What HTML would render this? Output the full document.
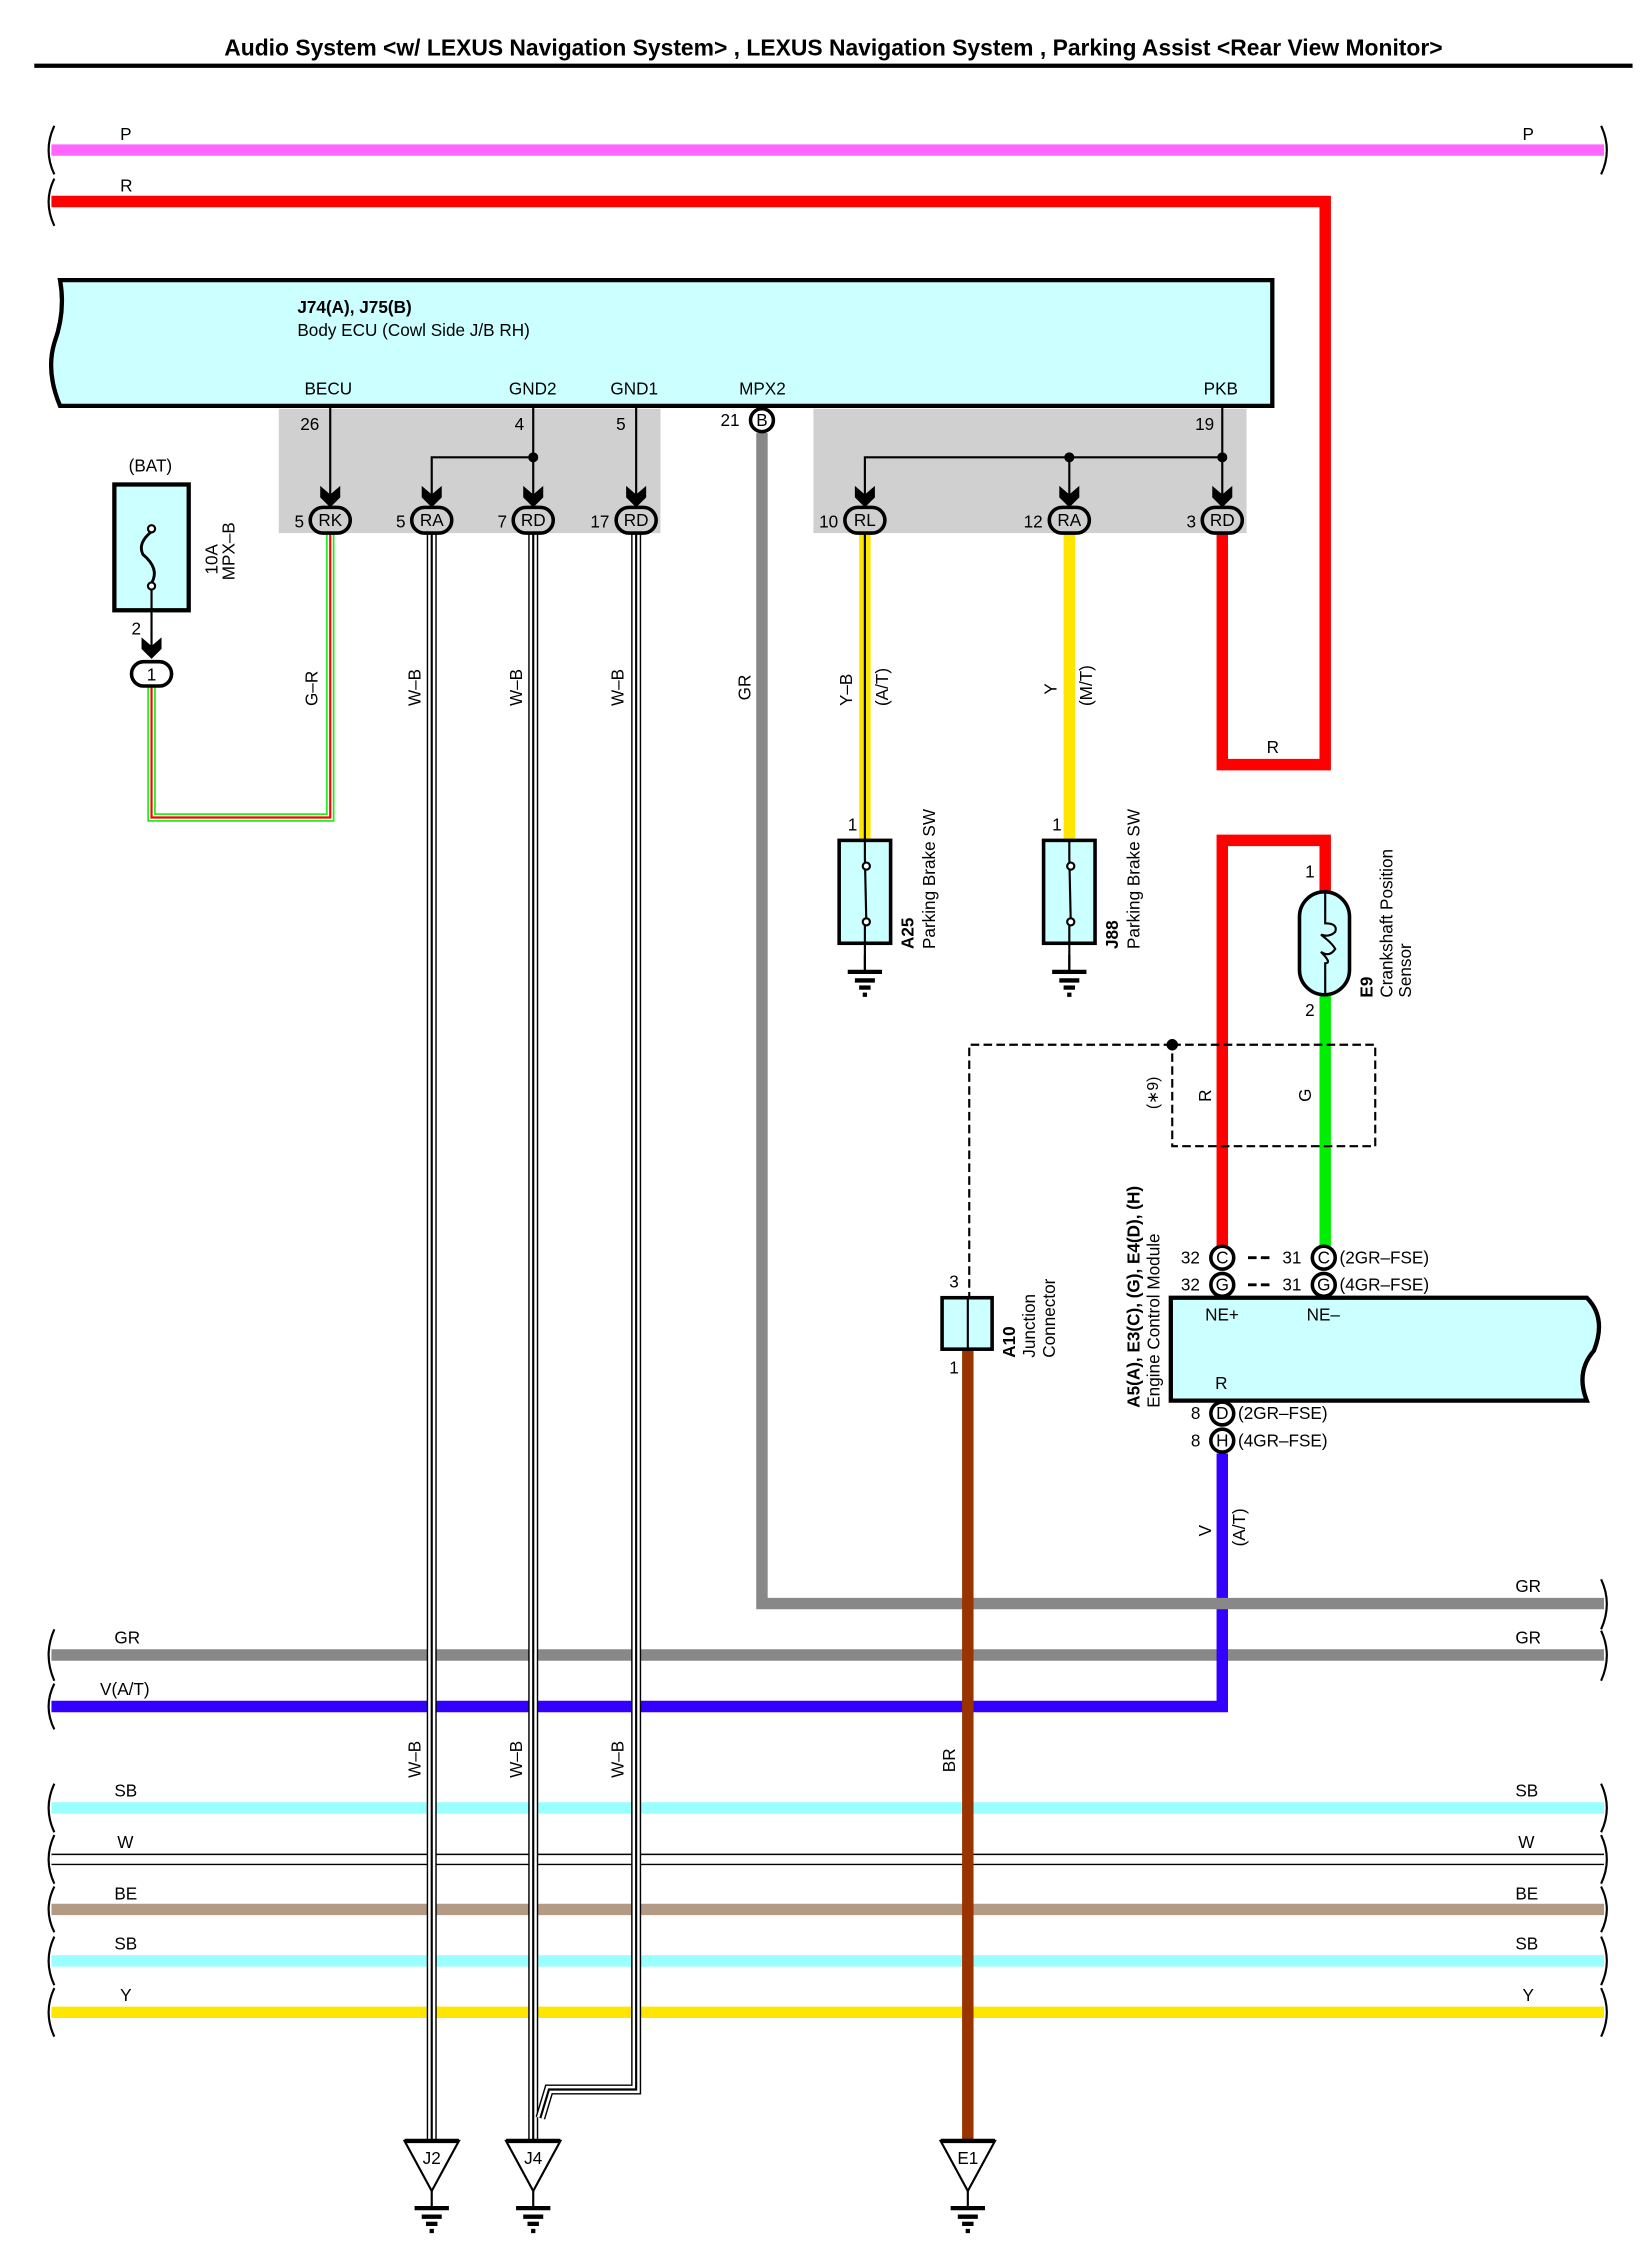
<!DOCTYPE html>
<html><head><meta charset="utf-8"><style>
html,body{margin:0;padding:0;background:#fff}
svg{display:block}
text{font-family:"Liberation Sans",sans-serif;font-size:12px;fill:#000}
.b{font-weight:bold}
</style></head><body>
<svg width="1644" height="2241" viewBox="0 0 1150 1568" preserveAspectRatio="none" xmlns="http://www.w3.org/2000/svg">
<defs>
<g id="arr"><path d="M-7,-12 L0,-6 L7,-12 L7,-4 L0,3 L-7,-4Z" fill="#000"/></g>
<g id="gnd"><line x1="0" y1="0" x2="0" y2="12" stroke="#000" stroke-width="1.5"/><line x1="-12" y1="12" x2="12" y2="12" stroke="#000" stroke-width="3"/><line x1="-7" y1="18" x2="7" y2="18" stroke="#000" stroke-width="3"/><line x1="-4" y1="23" x2="4" y2="23" stroke="#000" stroke-width="3"/><line x1="-1.5" y1="28" x2="1.5" y2="28" stroke="#000" stroke-width="3"/></g>
</defs>
<text x="583" y="39" text-anchor="middle" class="b" style="font-size:16px">Audio System &lt;w/ LEXUS Navigation System&gt; , LEXUS Navigation System , Parking Assist &lt;Rear View Monitor&gt;</text>
<line x1="24" y1="46" x2="1142" y2="46" stroke="#000" stroke-width="3"/>

<line x1="36" y1="105" x2="1122" y2="105" stroke="#ff66ff" stroke-width="8"/>
<text x="84" y="98">P</text><text x="1065" y="98">P</text>
<polyline points="36,141 927,141 927,535 855,535 855,372" fill="none" stroke="#ff0000" stroke-width="8"/>
<text x="84" y="134">R</text><text x="886" y="527">R</text>

<g fill="none" stroke="#000" stroke-width="1.5">
<path d="M38,88 Q30,105 38,122"/><path d="M38,125 Q30,141 38,158"/>
<path d="M1120,88 Q1128,105 1120,122"/>
</g>

<path d="M42,196 L890,196 L890,284 L42,284 Q32,260 38,240 Q46,218 42,196Z" fill="#ccffff" stroke="#000" stroke-width="3"/>
<text x="208" y="219" class="b">J74(A), J75(B)</text>
<text x="208" y="235">Body ECU (Cowl Side J/B RH)</text>
<text x="213" y="276">BECU</text><text x="356" y="276">GND2</text><text x="427" y="276">GND1</text><text x="517" y="276">MPX2</text><text x="842" y="276">PKB</text>
<rect x="195" y="286" width="267" height="87" fill="#d0d0d0"/>
<rect x="569" y="286" width="303" height="87" fill="#d0d0d0"/>

<line x1="36" y1="1158" x2="1122" y2="1158" stroke="#888" stroke-width="8"/>
<text x="80" y="1150">GR</text><text x="1060" y="1150">GR</text>
<polyline points="36,1194 855,1194 855,1017" fill="none" stroke="#3300ff" stroke-width="8"/>
<text x="70" y="1186">V(A/T)</text>
<line x1="36" y1="1265" x2="1122" y2="1265" stroke="#99ffff" stroke-width="8"/>
<text x="80" y="1257">SB</text><text x="1060" y="1257">SB</text>
<line x1="36" y1="1301" x2="1122" y2="1301" stroke="#000" stroke-width="8"/>
<line x1="36" y1="1301" x2="1122" y2="1301" stroke="#fff" stroke-width="6"/>
<text x="82" y="1293">W</text><text x="1062" y="1293">W</text>
<line x1="36" y1="1336" x2="1122" y2="1336" stroke="#b39a85" stroke-width="8"/>
<text x="80" y="1329">BE</text><text x="1060" y="1329">BE</text>
<line x1="36" y1="1372" x2="1122" y2="1372" stroke="#99ffff" stroke-width="8"/>
<text x="80" y="1364">SB</text><text x="1060" y="1364">SB</text>
<line x1="36" y1="1408" x2="1122" y2="1408" stroke="#ffe600" stroke-width="8"/>
<text x="84" y="1400">Y</text><text x="1065" y="1400">Y</text>
<g fill="none" stroke="#000" stroke-width="1.5">
<path d="M38,1140 Q30,1158 38,1176"/><path d="M38,1178 Q30,1194 38,1210"/>
<path d="M38,1248 Q30,1265 38,1282"/><path d="M38,1284 Q30,1301 38,1318"/><path d="M38,1320 Q30,1336 38,1352"/><path d="M38,1355 Q30,1372 38,1389"/><path d="M38,1391 Q30,1408 38,1425"/>
<path d="M1120,1105 Q1128,1122 1120,1140"/><path d="M1120,1141 Q1128,1158 1120,1176"/>
<path d="M1120,1248 Q1128,1265 1120,1282"/><path d="M1120,1284 Q1128,1301 1120,1318"/><path d="M1120,1320 Q1128,1336 1120,1352"/><path d="M1120,1355 Q1128,1372 1120,1389"/><path d="M1120,1391 Q1128,1408 1120,1425"/>
</g>

<polyline points="533,303 533,1122 1122,1122" fill="none" stroke="#888" stroke-width="8"/>
<text x="1060" y="1114">GR</text>
<text transform="translate(525,490) rotate(-90)">GR</text>

<g stroke="#000" stroke-width="1.5" fill="none">
<line x1="231" y1="284" x2="231" y2="352"/>
<line x1="373" y1="284" x2="373" y2="352"/>
<polyline points="302,352 302,320 373,320"/>
<line x1="445" y1="284" x2="445" y2="352"/>
<line x1="855" y1="284" x2="855" y2="352"/>
<polyline points="605,352 605,320 855,320"/>
<line x1="748" y1="320" x2="748" y2="352"/>
</g>
<circle cx="373" cy="320" r="3.5"/><circle cx="748" cy="320" r="3.5"/><circle cx="855" cy="320" r="3.5"/>
<text x="210" y="301">26</text><text x="360" y="301">4</text><text x="431" y="301">5</text><text x="836" y="301">19</text>
<text x="504" y="298">21</text>
<circle cx="533" cy="294" r="8" fill="#fff" stroke="#000" stroke-width="2.5"/><text x="533" y="298" text-anchor="middle">B</text>

<polyline points="106,480 106,572 231,572 231,373" fill="none" stroke="#22ee22" stroke-width="6"/>
<polyline points="106,480 106,572 231,572 231,373" fill="none" stroke="#fff" stroke-width="3.5"/>
<polyline points="106,480 106,572 231,572 231,373" fill="none" stroke="#ff0000" stroke-width="1.5"/>
<text transform="translate(222,494) rotate(-90)">G–R</text>

<g fill="none">
<polyline points="302,373 302,1500" stroke="#000" stroke-width="7"/>
<polyline points="302,373 302,1500" stroke="#fff" stroke-width="5"/>
<polyline points="302,373 302,1500" stroke="#000" stroke-width="1.5"/>
<polyline points="373,373 373,1500" stroke="#000" stroke-width="7"/>
<polyline points="373,373 373,1500" stroke="#fff" stroke-width="5"/>
<polyline points="373,373 373,1500" stroke="#000" stroke-width="1.5"/>
<polyline points="445,373 445,1462 384,1462 378,1482" stroke="#000" stroke-width="7"/>
<polyline points="445,373 445,1462 384,1462 378,1482" stroke="#fff" stroke-width="5"/>
<polyline points="445,373 445,1462 384,1462 378,1482" stroke="#000" stroke-width="1.5"/>
</g>
<text transform="translate(294,494) rotate(-90)">W–B</text><text transform="translate(365,494) rotate(-90)">W–B</text><text transform="translate(436,494) rotate(-90)">W–B</text>
<text transform="translate(294,1244) rotate(-90)">W–B</text><text transform="translate(365,1244) rotate(-90)">W–B</text><text transform="translate(436,1244) rotate(-90)">W–B</text>

<line x1="605" y1="373" x2="605" y2="588" stroke="#ffe600" stroke-width="8"/>
<line x1="605" y1="373" x2="605" y2="588" stroke="#000" stroke-width="1.5"/>
<line x1="748" y1="373" x2="748" y2="588" stroke="#ffe600" stroke-width="8"/>
<text transform="translate(596,494) rotate(-90)">Y–B</text><text transform="translate(621,494) rotate(-90)">(A/T)</text>
<text transform="translate(739,486) rotate(-90)">Y</text><text transform="translate(764,494) rotate(-90)">(M/T)</text>

<g stroke="#000" stroke-width="2.5" fill="#d0d0d0">
<rect x="217" y="355" width="28" height="18" rx="9"/>
<rect x="288" y="355" width="28" height="18" rx="9"/>
<rect x="359" y="355" width="28" height="18" rx="9"/>
<rect x="431" y="355" width="28" height="18" rx="9"/>
<rect x="591" y="355" width="28" height="18" rx="9"/>
<rect x="734" y="355" width="28" height="18" rx="9"/>
<rect x="841" y="355" width="28" height="18" rx="9"/>
</g>
<use href="#arr" x="231" y="352"/><use href="#arr" x="302" y="352"/><use href="#arr" x="373" y="352"/><use href="#arr" x="445" y="352"/>
<use href="#arr" x="605" y="352"/><use href="#arr" x="748" y="352"/><use href="#arr" x="855" y="352"/>
<g text-anchor="middle">
<text x="231" y="368">RK</text><text x="302" y="368">RA</text><text x="373" y="368">RD</text><text x="445" y="368">RD</text>
<text x="605" y="368">RL</text><text x="748" y="368">RA</text><text x="855" y="368">RD</text>
</g>
<text x="206" y="369">5</text><text x="277" y="369">5</text><text x="348" y="369">7</text><text x="413" y="369">17</text>
<text x="573" y="369">10</text><text x="716" y="369">12</text><text x="830" y="369">3</text>

<text x="90" y="330">(BAT)</text>
<rect x="80" y="339" width="52" height="88" fill="#ccffff" stroke="#000" stroke-width="3"/>
<path d="M106,372 Q96,380 100,388 Q112,398 106,408" fill="none" stroke="#000" stroke-width="2"/>
<circle cx="106" cy="370" r="2.5" fill="#fff" stroke="#000" stroke-width="1.5"/><circle cx="106" cy="410" r="2.5" fill="#fff" stroke="#000" stroke-width="1.5"/>
<line x1="106" y1="412" x2="106" y2="458" stroke="#000" stroke-width="1.5"/>
<use href="#arr" x="106" y="458"/>
<text x="92" y="444">2</text>
<rect x="92" y="463" width="28" height="17" rx="8.5" fill="#fff" stroke="#000" stroke-width="2.5"/>
<text x="106" y="476" text-anchor="middle">1</text>
<text transform="translate(152,402) rotate(-90)">10A</text><text transform="translate(164,406) rotate(-90)">MPX–B</text>

<g>
<rect x="587" y="588" width="36" height="72" fill="#ccffff" stroke="#000" stroke-width="2.5"/>
<line x1="605" y1="588" x2="605" y2="600" stroke="#000" stroke-width="1.5"/>
<line x1="605" y1="600" x2="606" y2="645" stroke="#000" stroke-width="1.5"/>
<line x1="605" y1="645" x2="605" y2="680" stroke="#000" stroke-width="1.5"/>
<circle cx="606" cy="606" r="2.5" fill="#fff" stroke="#000" stroke-width="1.5"/><circle cx="606" cy="645" r="2.5" fill="#fff" stroke="#000" stroke-width="1.5"/>
<use href="#gnd" x="605" y="668"/>
<text x="593" y="581">1</text>
<text transform="translate(639,664) rotate(-90)" class="b">A25</text>
<text transform="translate(654,664) rotate(-90)">Parking Brake SW</text>
</g>
<g>
<rect x="730" y="588" width="36" height="72" fill="#ccffff" stroke="#000" stroke-width="2.5"/>
<line x1="748" y1="588" x2="748" y2="600" stroke="#000" stroke-width="1.5"/>
<line x1="748" y1="600" x2="749" y2="645" stroke="#000" stroke-width="1.5"/>
<line x1="748" y1="645" x2="748" y2="680" stroke="#000" stroke-width="1.5"/>
<circle cx="749" cy="606" r="2.5" fill="#fff" stroke="#000" stroke-width="1.5"/><circle cx="749" cy="645" r="2.5" fill="#fff" stroke="#000" stroke-width="1.5"/>
<use href="#gnd" x="748" y="668"/>
<text x="736" y="581">1</text>
<text transform="translate(782,664) rotate(-90)" class="b">J88</text>
<text transform="translate(797,664) rotate(-90)">Parking Brake SW</text>
</g>

<polyline points="855,872 855,588 927,588 927,625" fill="none" stroke="#ff0000" stroke-width="8"/>
<line x1="927" y1="693" x2="927" y2="872" stroke="#00ee00" stroke-width="8"/>
<rect x="909" y="624" width="35" height="72" rx="17.5" fill="#ccffff" stroke="#000" stroke-width="2.5"/>
<path d="M927,624 L927,646 Q936,646 934,652 Q930,656 924,654 Q932,660 934,664 Q930,670 924,666 Q932,674 927,674 L927,696" fill="none" stroke="#000" stroke-width="1.5"/>
<text x="913" y="614">1</text><text x="913" y="711">2</text>
<text transform="translate(960,698) rotate(-90)" class="b">E9</text>
<text transform="translate(974,698) rotate(-90)">Crankshaft Position</text>
<text transform="translate(987,698) rotate(-90)">Sensor</text>

<g fill="none" stroke="#000" stroke-width="1.5" stroke-dasharray="6,3">
<rect x="820" y="731" width="142" height="71"/>
<polyline points="820,731 678,731 678,908"/>
</g>
<circle cx="820" cy="731" r="4"/>
<text transform="translate(810,776) rotate(-90)" style="font-size:11px">(∗9)</text>
<text transform="translate(847,771) rotate(-90)">R</text><text transform="translate(917,771) rotate(-90)">G</text>

<path d="M819,908 L1110,908 Q1124,922 1115,945 Q1102,960 1110,980 L819,980Z" fill="#ccffff" stroke="#000" stroke-width="3"/>
<text x="843" y="924">NE+</text><text x="914" y="924">NE–</text><text x="850" y="972">R</text>
<g stroke="#000" stroke-width="2.5" fill="#fff">
<circle cx="855" cy="880" r="8"/><circle cx="855" cy="899" r="8"/><circle cx="926" cy="880" r="8"/><circle cx="926" cy="899" r="8"/>
<circle cx="855" cy="989" r="8"/><circle cx="855" cy="1008" r="8"/>
</g>
<g text-anchor="middle"><text x="855" y="884">C</text><text x="855" y="903">G</text><text x="926" y="884">C</text><text x="926" y="903">G</text><text x="855" y="993">D</text><text x="855" y="1012">H</text></g>
<text x="826" y="884">32</text><text x="826" y="903">32</text><text x="897" y="884">31</text><text x="897" y="903">31</text>
<line x1="873" y1="880" x2="890" y2="880" stroke="#000" stroke-width="2" stroke-dasharray="6,3"/>
<line x1="873" y1="899" x2="890" y2="899" stroke="#000" stroke-width="2" stroke-dasharray="6,3"/>
<text x="937" y="884">(2GR–FSE)</text><text x="937" y="903">(4GR–FSE)</text>
<text x="833" y="993">8</text><text x="833" y="1012">8</text>
<text x="866" y="993">(2GR–FSE)</text><text x="866" y="1012">(4GR–FSE)</text>
<text transform="translate(797,985) rotate(-90)" class="b">A5(A), E3(C), (G), E4(D), (H)</text>
<text transform="translate(811,985) rotate(-90)">Engine Control Module</text>
<text transform="translate(847,1075) rotate(-90)">V</text><text transform="translate(871,1082) rotate(-90)">(A/T)</text>

<line x1="677" y1="944" x2="677" y2="1500" stroke="#993300" stroke-width="8"/>
<text transform="translate(668,1240) rotate(-90)">BR</text>
<rect x="659" y="908" width="35" height="36" fill="#ccffff" stroke="#000" stroke-width="2.5"/>
<line x1="677" y1="908" x2="677" y2="944" stroke="#000" stroke-width="1.5"/>
<text x="664" y="901">3</text><text x="664" y="961">1</text>
<text transform="translate(710,950) rotate(-90)" class="b">A10</text>
<text transform="translate(724,950) rotate(-90)">Junction</text>
<text transform="translate(738,950) rotate(-90)">Connector</text>

<g>
<path d="M283,1498 L321,1498 L302,1533Z" fill="#fff" stroke="#000" stroke-width="1.5"/><line x1="283" y1="1498" x2="321" y2="1498" stroke="#000" stroke-width="3"/>
<text x="302" y="1514" text-anchor="middle">J2</text><use href="#gnd" x="302" y="1533"/>
<path d="M354,1498 L392,1498 L373,1533Z" fill="#fff" stroke="#000" stroke-width="1.5"/><line x1="354" y1="1498" x2="392" y2="1498" stroke="#000" stroke-width="3"/>
<text x="373" y="1514" text-anchor="middle">J4</text><use href="#gnd" x="373" y="1533"/>
<path d="M658,1498 L696,1498 L677,1533Z" fill="#fff" stroke="#000" stroke-width="1.5"/><line x1="658" y1="1498" x2="696" y2="1498" stroke="#000" stroke-width="3"/>
<text x="677" y="1514" text-anchor="middle">E1</text><use href="#gnd" x="677" y="1533"/>
</g>
</svg>
</body></html>
